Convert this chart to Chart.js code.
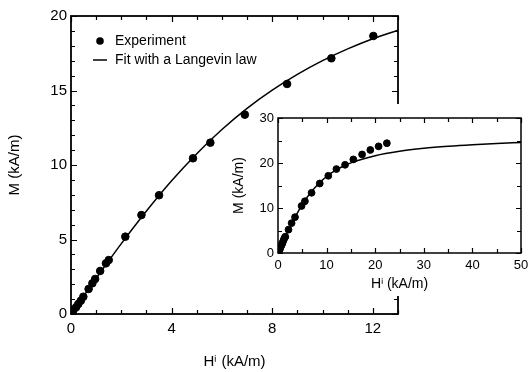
<!DOCTYPE html>
<html>
<head>
<meta charset="utf-8">
<script src="https://cdn.jsdelivr.net/npm/chart.js@4/dist/chart.umd.min.js"></script>
<style>
  html, body { margin: 0; padding: 0; background: #fff; }
  #wrap { position: relative; width: 528px; height: 372px; }
  #mainChart { position: absolute; left: 0; top: 0; }
  #insetChart { position: absolute; left: 230px; top: 100px; }
</style>
</head>
<body>
<div id="wrap">
  <canvas id="mainChart" width="528" height="372"></canvas>
  <canvas id="insetChart" width="298" height="200"></canvas>
</div>
<script>
// Measured points (H in kA/m, M in kA/m)
const expH = [0.10, 0.20, 0.29, 0.39, 0.49, 0.70, 0.85, 0.96, 1.16, 1.39, 1.50, 2.16, 2.80, 3.50, 4.85, 5.54, 6.91, 8.59, 10.35, 12.02];
const expM = [0.27, 0.45, 0.67, 0.89, 1.16, 1.68, 2.06, 2.35, 2.89, 3.40, 3.62, 5.19, 6.64, 7.97, 10.45, 11.50, 13.38, 15.44, 17.16, 18.66];
// extra points only seen in the inset (higher field)
const expHighH = [13.8, 15.5, 17.3, 19.0, 20.7, 22.4];
const expHighM = [19.6, 20.8, 21.9, 22.9, 23.7, 24.4];

// Langevin fit curve
const fitH = [0, 1, 2, 3, 4, 5, 6, 7, 8, 9, 10, 11, 12, 13];
const fitM = [0, 2.39, 4.72, 6.91, 8.94, 10.76, 12.38, 13.80, 15.02, 16.08, 17.00, 17.79, 18.47, 19.05];
const fitHighH = [15, 20, 25, 30, 35, 40, 45, 50];
const fitHighM = [20.03, 21.63, 22.61, 23.26, 23.72, 24.07, 24.34, 24.55];

const mainXTicks = [0, 4, 8, 12];
const mainYTicks = [0, 5, 10, 15, 20];
const insetXTicks = [0, 10, 20, 30, 40, 50];
const insetYTicks = [0, 10, 20, 30];

const FONT = "'Liberation Sans', Arial, Helvetica, sans-serif";
const toXY = (xs, ys) => xs.map((x, i) => ({ x: x, y: ys[i] }));

// Frame with inward ticks on all four sides
const frameTicks = {
    id: 'frameTicks',
    afterDraw(chart, args, opts) {
        const { ctx, chartArea: a, scales: { x, y } } = chart;
        ctx.save();
        ctx.strokeStyle = '#000';
        ctx.lineWidth = 1.2;
        ctx.beginPath();
        for (let v = x.min; v <= x.max + 1e-6; v += opts.xMinor) {
            const px = Math.round(x.getPixelForValue(v)) + 0.5;
            const len = Math.abs(v / opts.xMajor - Math.round(v / opts.xMajor)) < 1e-6 ? opts.major : opts.minor;
            ctx.moveTo(px, a.bottom); ctx.lineTo(px, a.bottom - len);
            ctx.moveTo(px, a.top); ctx.lineTo(px, a.top + len);
        }
        for (let v = y.min; v <= y.max + 1e-6; v += opts.yMinor) {
            const py = Math.round(y.getPixelForValue(v)) + 0.5;
            const len = Math.abs(v / opts.yMajor - Math.round(v / opts.yMajor)) < 1e-6 ? opts.major : opts.minor;
            ctx.moveTo(a.left, py); ctx.lineTo(a.left + len, py);
            ctx.moveTo(a.right, py); ctx.lineTo(a.right - len, py);
        }
        ctx.stroke();
        ctx.lineWidth = opts.frame;
        ctx.strokeRect(a.left, a.top, a.right - a.left, a.bottom - a.top);
        ctx.restore();
    }
};

// Legend drawn inside the plot, top left
const insideLegend = {
    id: 'insideLegend',
    afterDraw(chart) {
        const { ctx } = chart;
        const ds = chart.data.datasets;
        ctx.save();
        ctx.fillStyle = '#000';
        ctx.strokeStyle = '#000';
        ctx.font = '14px ' + FONT;
        ctx.textBaseline = 'middle';
        ctx.beginPath();
        ctx.arc(100, 41, 3.8, 0, Math.PI * 2);
        ctx.fill();
        ctx.fillText(ds[0].label, 115, 41);
        ctx.lineWidth = 1.5;
        ctx.beginPath();
        ctx.moveTo(93, 60); ctx.lineTo(107, 60);
        ctx.stroke();
        ctx.fillText(ds[1].label, 115, 60);
        ctx.restore();
    }
};

// White box behind the inset
const whiteBox = {
    id: 'whiteBox',
    beforeDraw(chart) {
        const { ctx, width, height } = chart;
        ctx.save();
        ctx.fillStyle = '#fff';
        ctx.fillRect(26, 4, width - 26, height - 8);
        ctx.restore();
    }
};

function axisOpts(cfg) {
    return {
        x: {
            type: 'linear', min: cfg.xMin, max: cfg.xMax,
            afterBuildTicks: s => { s.ticks = cfg.xTicks.map(v => ({ value: v })); },
            afterFit: s => { s.height = cfg.xH; s.paddingLeft = 0; s.paddingRight = 0; },
            grid: { display: false, drawTicks: false },
            border: { display: false },
            ticks: { color: '#000', padding: cfg.xPad, maxRotation: 0, font: { family: FONT, size: cfg.tickSize } },
            title: { display: true, text: 'Hⁱ (kA/m)', color: '#000', padding: { top: 0, bottom: cfg.titlePadX }, font: { family: FONT, size: cfg.titleSize } }
        },
        y: {
            type: 'linear', min: cfg.yMin, max: cfg.yMax,
            afterBuildTicks: s => { s.ticks = cfg.yTicks.map(v => ({ value: v })); },
            afterFit: s => { s.width = cfg.yW; s.paddingTop = 0; s.paddingBottom = 0; },
            grid: { display: false, drawTicks: false },
            border: { display: false },
            ticks: { color: '#000', padding: cfg.yPad, font: { family: FONT, size: cfg.tickSize } },
            title: { display: true, text: 'M (kA/m)', color: '#000', padding: { top: cfg.titlePadY, bottom: 0 }, font: { family: FONT, size: cfg.titleSize } }
        }
    };
}

new Chart(document.getElementById('mainChart'), {
    type: 'scatter',
    data: {
        datasets: [{
            label: 'Experiment',
            data: toXY(expH, expM),
            backgroundColor: '#000',
            borderColor: '#000',
            pointRadius: 3.8,
            showLine: false
        }, {
            label: 'Fit with a Langevin law',
            data: toXY(fitH, fitM),
            borderColor: '#000',
            borderWidth: 1.5,
            pointRadius: 0,
            showLine: true,
            cubicInterpolationMode: 'monotone'
        }]
    },
    options: {
        responsive: false,
        animation: false,
        layout: { padding: { top: 16, right: 130, left: 0, bottom: 0 } },
        plugins: {
            legend: { display: false },
            tooltip: { enabled: false },
            frameTicks: { xMinor: 1, xMajor: 4, yMinor: 1, yMajor: 5, major: 6, minor: 4, frame: 1.8 }
        },
        scales: axisOpts({
            xMin: 0, xMax: 13, yMin: 0, yMax: 20,
            xTicks: mainXTicks, yTicks: mainYTicks,
            xH: 58, yW: 71, xPad: 6, yPad: 4,
            tickSize: 15, titleSize: 15, titlePadX: 1, titlePadY: 6
        })
    },
    plugins: [frameTicks, insideLegend]
});

new Chart(document.getElementById('insetChart'), {
    type: 'scatter',
    data: {
        datasets: [{
            label: 'Experiment',
            data: toXY(expH.concat(expHighH), expM.concat(expHighM)),
            backgroundColor: '#000',
            borderColor: '#000',
            pointRadius: 3.4,
            showLine: false
        }, {
            label: 'Fit with a Langevin law',
            data: toXY(fitH.concat(fitHighH), fitM.concat(fitHighM)),
            borderColor: '#000',
            borderWidth: 1.5,
            pointRadius: 0,
            showLine: true,
            cubicInterpolationMode: 'monotone'
        }]
    },
    options: {
        responsive: false,
        animation: false,
        layout: { padding: { top: 18, right: 7, left: 0, bottom: 0 } },
        plugins: {
            legend: { display: false },
            tooltip: { enabled: false },
            frameTicks: { xMinor: 5, xMajor: 10, yMinor: 5, yMajor: 10, major: 5, minor: 4, frame: 1.5 }
        },
        scales: axisOpts({
            xMin: 0, xMax: 50, yMin: 0, yMax: 30,
            xTicks: insetXTicks, yTicks: insetYTicks,
            xH: 47, yW: 48, xPad: 5, yPad: 4,
            tickSize: 13, titleSize: 14, titlePadX: 7, titlePadY: 1
        })
    },
    plugins: [whiteBox, frameTicks]
});
</script>
</body>
</html>
